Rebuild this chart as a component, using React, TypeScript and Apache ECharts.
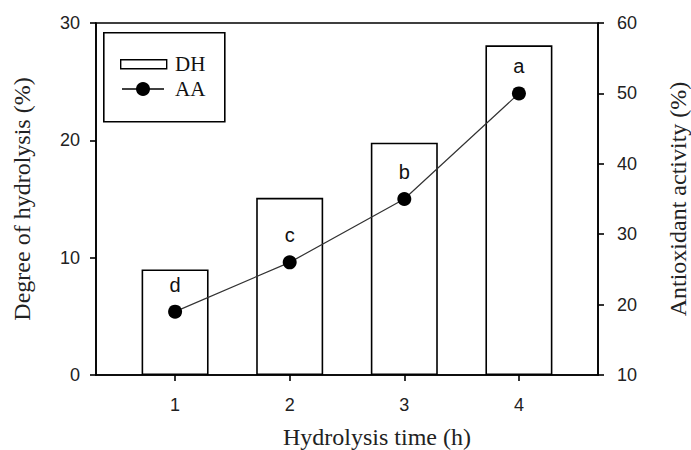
import React, { useEffect, useRef } from "react";
import * as echarts from "echarts";

const hours = [1, 2, 3, 4];
const dhValues = [9.0, 15.1, 19.8, 28.1];
const aaValues = [19, 26, 35, 50];
const letters = ["d", "c", "b", "a"];
const leftTicks = [0, 10, 20, 30];
const rightTicks = [10, 20, 30, 40, 50, 60];

const serif = "'Liberation Serif', 'Times New Roman', serif";
const sans = "'Liberation Sans', Arial, sans-serif";

export default function App() {
  const ref = useRef<HTMLDivElement>(null);
  useEffect(() => {
    if (!ref.current) return;
    const chart = echarts.init(ref.current, null, { renderer: "svg" });
    const axisLine = { show: true, lineStyle: { color: "#000", width: 1.6 } };
    const option = {
      animation: false,
      backgroundColor: "#fff",
      grid: {
        left: 96,
        right: 93,
        top: 23,
        bottom: 75,
        containLabel: false,
        outerBoundsMode: "none",
        show: true,
        borderColor: "#000",
        borderWidth: 1.6,
      },
      xAxis: {
        type: "value",
        min: 0.31,
        max: 4.69,
        splitLine: { show: false },
        axisLine,
        axisTick: {
          show: true,
          inside: false,
          length: 6,
          customValues: hours,
          lineStyle: { color: "#000", width: 1.6 },
        },
        axisLabel: {
          customValues: hours,
          color: "#222",
          fontFamily: sans,
          fontSize: 18,
          margin: 21,
        },
        name: "Hydrolysis time (h)",
        nameLocation: "middle",
        nameGap: 50,
        nameTextStyle: {
          fontFamily: serif,
          fontSize: 24,
          color: "#222",
          padding: [0, 0, 0, 60],
        },
      },
      yAxis: [
        {
          type: "value",
          min: 0,
          max: 30,
          interval: 10,
          position: "left",
          splitLine: { show: false },
          axisLine,
          axisTick: { show: true, length: 6, lineStyle: { color: "#000", width: 1.6 } },
          axisLabel: {
            customValues: leftTicks,
            color: "#222",
            fontFamily: sans,
            fontSize: 18,
            margin: 16,
          },
          name: "Degree of hydrolysis (%)",
          nameLocation: "middle",
          nameRotate: 90,
          nameGap: 62,
          nameTextStyle: { fontFamily: serif, fontSize: 24, color: "#222" },
        },
        {
          type: "value",
          min: 10,
          max: 60,
          interval: 10,
          position: "right",
          splitLine: { show: false },
          axisLine,
          axisTick: { show: true, length: 6, lineStyle: { color: "#000", width: 1.6 } },
          axisLabel: {
            customValues: rightTicks,
            color: "#222",
            fontFamily: sans,
            fontSize: 18,
            margin: 19,
          },
          name: "Antioxidant activity (%)",
          nameLocation: "middle",
          nameRotate: 90,
          nameGap: 68,
          nameTextStyle: { fontFamily: serif, fontSize: 24, color: "#222" },
        },
      ],
      series: [
        {
          name: "DH",
          type: "bar",
          yAxisIndex: 0,
          barWidth: 67,
          data: hours.map((h, i) => [h, dhValues[i]]),
          itemStyle: { color: "#fff", borderColor: "#000", borderWidth: 1.6 },
        },
        {
          name: "AA",
          type: "line",
          yAxisIndex: 1,
          data: hours.map((h, i) => [h, aaValues[i]]),
          symbol: "circle",
          symbolSize: 14,
          itemStyle: { color: "#000" },
          lineStyle: { color: "#333", width: 1.2 },
          label: {
            show: true,
            position: "top",
            distance: 10,
            formatter: (p: any) => letters[p.dataIndex],
            fontFamily: sans,
            fontSize: 20,
            color: "#111",
          },
        },
      ],
      graphic: [
        {
          type: "rect",
          left: 103,
          top: 32,
          shape: { width: 121, height: 89 },
          style: { fill: "#fff", stroke: "#000", lineWidth: 1.6 },
        },
        {
          type: "rect",
          left: 120,
          top: 59,
          shape: { width: 46, height: 9 },
          style: { fill: "#fff", stroke: "#000", lineWidth: 1.4 },
        },
        {
          type: "text",
          left: 175,
          top: 53,
          style: { text: "DH", font: `21px ${serif}`, fill: "#111" },
        },
        {
          type: "line",
          shape: { x1: 122, y1: 89, x2: 164, y2: 89 },
          style: { stroke: "#000", lineWidth: 1.4 },
        },
        {
          type: "circle",
          shape: { cx: 143, cy: 89, r: 7 },
          style: { fill: "#000" },
        },
        {
          type: "text",
          left: 175,
          top: 78,
          style: { text: "AA", font: `21px ${serif}`, fill: "#111" },
        },
      ],
    };
    chart.setOption(option as any);
    return () => chart.dispose();
  }, []);
  return (
    <div
      ref={ref}
      style={{ position: "absolute", left: 0, top: 0, width: 691, height: 450 }}
    />
  );
}
